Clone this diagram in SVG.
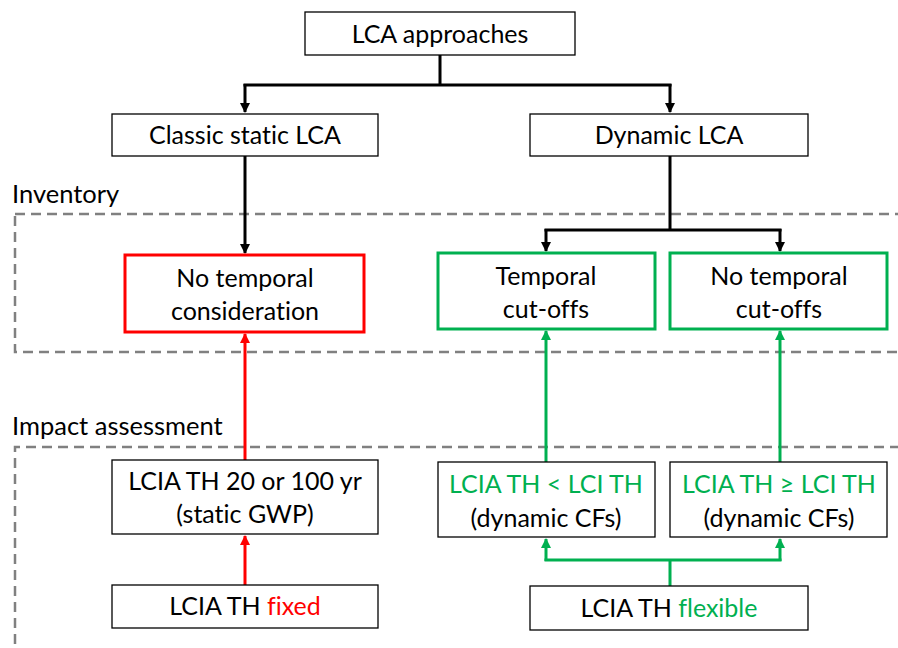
<svg xmlns="http://www.w3.org/2000/svg" width="898" height="648" viewBox="0 0 898 648">
<style>
text{font-family:Lato,"Open Sans","Liberation Sans",sans-serif;font-size:25px;text-anchor:middle;fill:#000;font-variant-ligatures:none;font-feature-settings:"liga" 0}
.lbl{text-anchor:start;font-size:25.5px}
.box{fill:#fff;stroke:#000;stroke-width:1.3}
.red{fill:#fff;stroke:#FF0000;stroke-width:3}
.grn{fill:#fff;stroke:#00B050;stroke-width:3}
.dash{fill:none;stroke:#808080;stroke-width:2.5;stroke-dasharray:10 6}
.cb{fill:none;stroke:#000;stroke-width:3}
.cr{fill:none;stroke:#FF0000;stroke-width:3}
.cg{fill:none;stroke:#00B050;stroke-width:3}
.tr{fill:#FF0000}
.tg{fill:#00B050}
</style>
<defs>
<marker id="ab" markerWidth="10" markerHeight="10" refX="9" refY="5" orient="auto" markerUnits="userSpaceOnUse"><path d="M0,0 L10,5 L0,10 z" fill="#000"/></marker>
<marker id="ar" markerWidth="10" markerHeight="10" refX="9" refY="5" orient="auto" markerUnits="userSpaceOnUse"><path d="M0,0 L10,5 L0,10 z" fill="#FF0000"/></marker>
<marker id="ag" markerWidth="10" markerHeight="10" refX="9" refY="5" orient="auto" markerUnits="userSpaceOnUse"><path d="M0,0 L10,5 L0,10 z" fill="#00B050"/></marker>
</defs>
<g id="sections">
<rect class="dash" x="15" y="214" width="900" height="138"/>
<path class="dash" d="M900,447 H15 V660"/>
<text class="lbl" x="12" y="203">Inventory</text>
<text class="lbl" x="12" y="435">Impact assessment</text>
</g>
<g id="connectors">
<path class="cb" d="M440,55 V85 M243.5,85 H671.5"/>
<path class="cb" d="M245,84 V112" marker-end="url(#ab)"/>
<path class="cb" d="M670,84 V112" marker-end="url(#ab)"/>
<path class="cb" d="M245,156 V253" marker-end="url(#ab)"/>
<path class="cb" d="M670,156 V230 M544.5,230 H781.5"/>
<path class="cb" d="M546,229 V251" marker-end="url(#ab)"/>
<path class="cb" d="M780,229 V251" marker-end="url(#ab)"/>
<path class="cr" d="M245,460 V334" marker-end="url(#ar)"/>
<path class="cr" d="M245,585 V536" marker-end="url(#ar)"/>
<path class="cg" d="M546,462 V331" marker-end="url(#ag)"/>
<path class="cg" d="M780,462 V331" marker-end="url(#ag)"/>
<path class="cg" d="M670,586 V560 M544.5,560 H781.5"/>
<path class="cg" d="M546,561 V539" marker-end="url(#ag)"/>
<path class="cg" d="M780,561 V539" marker-end="url(#ag)"/>
</g>
<g id="n-lca"><rect class="box" x="305" y="12" width="270" height="43"/><text x="440" y="43">LCA approaches</text></g>
<g id="n-static"><rect class="box" x="112" y="114" width="266" height="42"/><text x="245" y="144">Classic static LCA</text></g>
<g id="n-dynamic"><rect class="box" x="530" y="114" width="278" height="42"/><text x="669" y="144">Dynamic LCA</text></g>
<g id="n-notemp"><rect class="red" x="125" y="255" width="239" height="77"/><text x="245" y="287">No temporal</text><text x="245" y="320">consideration</text></g>
<g id="n-cut"><rect class="grn" x="438" y="253" width="217" height="76"/><text x="546" y="285">Temporal</text><text x="546" y="318">cut-offs</text></g>
<g id="n-nocut"><rect class="grn" x="670" y="253" width="217" height="76"/><text x="779" y="285">No temporal</text><text x="779" y="318">cut-offs</text></g>
<g id="n-static-th"><rect class="box" x="112" y="460" width="266" height="74"/><text x="245" y="490">LCIA TH 20 or 100 yr</text><text x="245" y="523">(static GWP)</text></g>
<g id="n-lt"><rect class="box" x="438" y="462" width="217" height="75"/><text x="546" y="493" class="tg">LCIA TH &lt; LCI TH</text><text x="546" y="527">(dynamic CFs)</text></g>
<g id="n-ge"><rect class="box" x="670" y="462" width="217" height="75"/><text x="779" y="493" class="tg">LCIA TH ≥ LCI TH</text><text x="779" y="527">(dynamic CFs)</text></g>
<g id="n-fixed"><rect class="box" x="112" y="585" width="266" height="43"/><text x="245" y="615">LCIA TH <tspan class="tr">fixed</tspan></text></g>
<g id="n-flex"><rect class="box" x="530" y="586" width="278" height="44"/><text x="669" y="617">LCIA TH <tspan class="tg">flexible</tspan></text></g>
</svg>
